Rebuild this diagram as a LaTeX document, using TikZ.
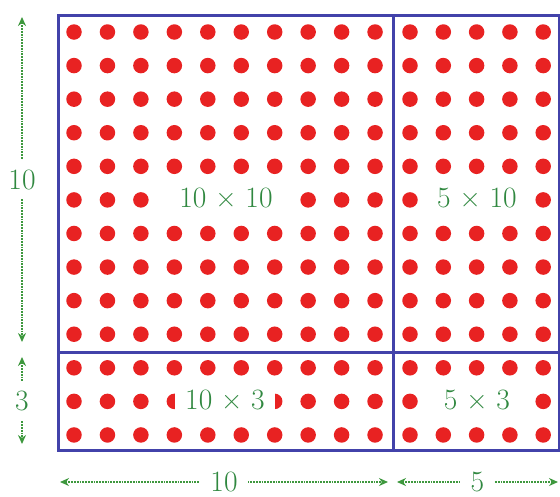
\documentclass[tikz,border=0pt]{standalone}
\usetikzlibrary{arrows.meta}
\definecolor{dotred}{RGB}{232,34,34}
\definecolor{frameblue}{RGB}{66,66,170}
\definecolor{labgreen}{RGB}{48,136,64}
\definecolor{arrgreen}{RGB}{62,152,62}
\newcommand{\tms}{\hspace{0.3em}×\hspace{0.3em}}
\begin{document}
\begin{tikzpicture}[x=1pt,y=-1pt,
  reddot/.style={circle,fill=dotred,inner sep=0pt,minimum size=15.5pt},
  frame/.style={draw=frameblue,line width=3pt},
  lab/.style={text=labgreen,font=\fontsize{29.5}{35}\selectfont},
  dimarrow/.style={draw=arrgreen,densely dotted,line width=1.8pt,
    {Stealth[length=9pt,width=8pt]}-{Stealth[length=9pt,width=8pt]}},
  vdimlab/.style={lab,fill=white,inner xsep=2pt,inner ysep=10pt},
  hdimlab/.style={lab,fill=white,inner xsep=10pt,inner ysep=0.3pt}]
\useasboundingbox (0,0) rectangle (560,496);
% dots
\foreach \r in {0,...,12}{
  \foreach \c in {0,...,14}{
    \pgfmathsetmacro\xx{\c<10 ? 74+33.45*\c : 410+33.3*(\c-10)}
    \pgfmathsetmacro\yy{32+33.58*\r}
    \pgfmathtruncatemacro\skipit{(\r==5 && ((\c>=3 && \c<=6) || (\c>=11 && \c<=13))) || (\r==11 && ((\c>=4 && \c<=5) || (\c>=11 && \c<=13)))}
    \ifnum\skipit=0
      \node[reddot] (d-\r-\c) at (\xx,\yy) {};
    \fi
  }
}
% frame
\coordinate (tl) at (58,15.5);
\coordinate (br) at (559.5,450);
\coordinate (vt) at (393,15.5);
\coordinate (vb) at (393,450);
\coordinate (hl) at (58,352);
\coordinate (hr) at (559.5,352);
\draw[frame] (tl) rectangle (br);
\draw[frame] (vt) -- (vb);
\draw[frame] (hl) -- (hr);
% labels
\node[lab] (l1010) at (226,198) {10\tms10};
\node[lab] (l510) at (477,198) {5\tms10};
\node[lab,fill=white,inner sep=2pt,minimum width=100pt] (l103) at (225,400) {10\tms3};
\node[lab] (l53) at (477,400) {5\tms3};
% dimension arrows
\coordinate (a1) at (22,17);
\coordinate (a2) at (22,342);
\coordinate (a3) at (22,357);
\coordinate (a4) at (22,444);
\coordinate (b1) at (60,482);
\coordinate (b2) at (388,482);
\coordinate (b3) at (397,482);
\coordinate (b4) at (558,482);
\draw[dimarrow] (a1) -- node[vdimlab] (v10) {10} (a2);
\draw[dimarrow] (a3) -- node[vdimlab] (v3) {3} (a4);
\draw[dimarrow] (b1) -- node[hdimlab] (h10) {10} (b2);
\draw[dimarrow] (b3) -- node[hdimlab] (h5) {5} (b4);
\end{tikzpicture}
\end{document}
